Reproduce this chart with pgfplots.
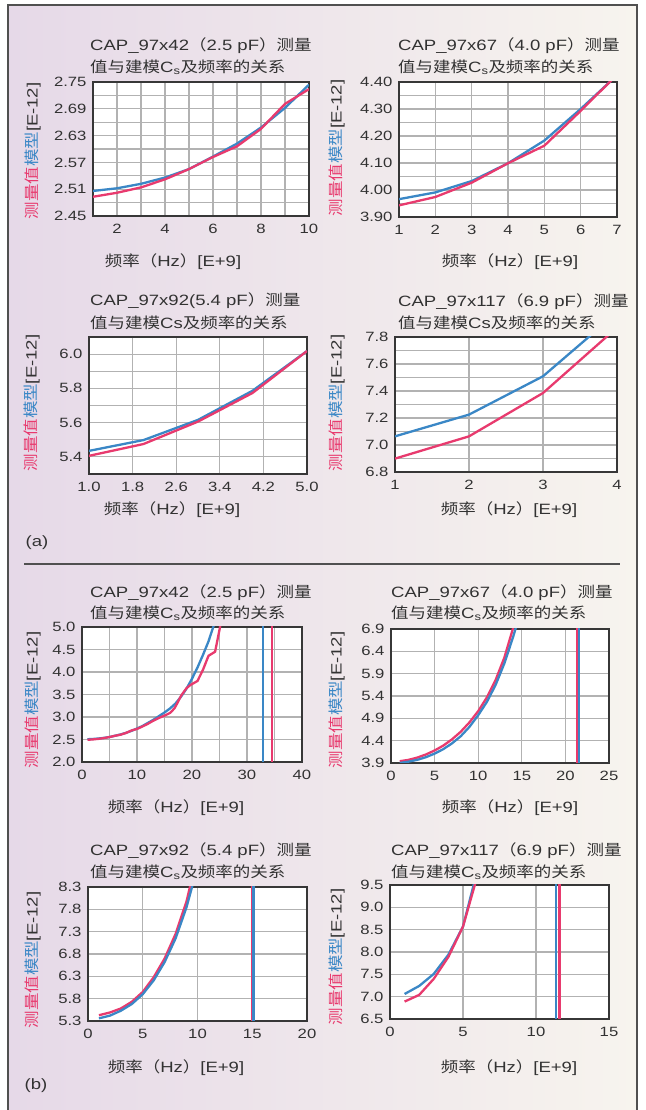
\documentclass[border=0pt]{standalone}
\usepackage{fontspec}
\usepackage{pgfplots}
\pgfplotsset{compat=1.18}
\setmainfont{Liberation Sans}[FakeStretch=1.24]
\newfontfamily\cjk{Noto Sans CJK SC}[FakeStretch=1.17]
\newcommand{\zh}[1]{{\cjk #1}}
\definecolor{cred}{RGB}{232,58,110}
\definecolor{cblue}{RGB}{58,135,198}
\definecolor{axgray}{RGB}{55,55,55}
\definecolor{grgray}{RGB}{178,178,178}
\definecolor{txgray}{RGB}{50,50,50}
\definecolor{bgL}{RGB}{230,217,232}
\definecolor{bgR}{RGB}{247,244,238}
\definecolor{framegray}{RGB}{80,80,80}
\pgfplotsset{
  capax/.style={
    scale only axis, anchor=south west,
    axis background/.style={fill=white},
    axis line style={draw=axgray, line width=2bp},
    grid=both,
    major grid style={draw=grgray, line width=1.2bp},
    minor grid style={draw=grgray, line width=1.2bp},
    major tick length=0pt, minor tick length=0pt,
    ticklabel style={font=\fontsize{13.5}{13.5}\selectfont, text=txgray},
    /pgf/number format/assume math mode=true,
    xticklabel shift=5bp, yticklabel shift=3bp,
    every axis plot/.append style={line width=2.3bp, line join=round},
  },
}
\newcommand{\tfont}{\fontsize{15}{15}\selectfont}
\newcommand{\ttl}[4]{%
  \node[anchor=west, text=txgray, font=\tfont, inner sep=0pt] at (#1,#2) {#4};
  \node[anchor=west, text=txgray, font=\tfont, inner sep=0pt] at (#1,#3) {\zh{值与建模}C\textsubscript{s}\zh{及频率的关系}};}
\newcommand{\ttlb}[4]{%
  \node[anchor=west, text=txgray, font=\tfont, inner sep=0pt] at (#1,#2) {#4};
  \node[anchor=west, text=txgray, font=\tfont, inner sep=0pt] at (#1,#3) {\zh{值与建模}Cs\zh{及频率的关系}};}
\newcommand{\ylab}[2]{%
  \node[rotate=90, font=\tfont, inner sep=0pt] at (#1,#2) {\zh{\color{cred}测量值\color{cblue}模型}\color{txgray}[E-12]};}
\newcommand{\xlab}[2]{%
  \node[font=\tfont, text=txgray, inner sep=0pt] at (#1,#2) {\zh{频率（}Hz\zh{）}[E+9]};}
\begin{document}
\begin{tikzpicture}[x=1bp,y=1bp]
\useasboundingbox (0,0) rectangle (646,1110);
\fill[white] (0,0) rectangle (646,1110);
\shade[left color=bgL, right color=bgR] (7.5,0) rectangle (637,1104.5);
\draw[framegray, line width=2bp] (7.5,-5) -- (7.5,1104.5) -- (637,1104.5) -- (637,-5);
\draw[framegray, line width=1.5bp] (24,546) -- (620,546);
\node[font=\tfont, text=txgray] at (37,567) {(a)};
\node[font=\tfont, text=txgray] at (36,24) {(b)};

% ---------- Panel 1 ----------
\begin{axis}[capax, at={(93bp,894bp)}, width=216bp, height=134bp,
  xmin=1, xmax=10, ymin=2.45, ymax=2.75,
  xtick={2,4,6,8,10}, minor xtick={1,3,5,7,9},
  ytick={2.45,2.51,2.57,2.63,2.69,2.75}, minor ytick={2.48,2.54,2.60,2.66,2.72},
  yticklabel style={/pgf/number format/.cd, fixed, fixed zerofill, precision=2}]
\addplot[cblue] coordinates {(1,2.506)(2,2.512)(3,2.522)(4,2.536)(5,2.555)(6,2.583)(7,2.612)(8,2.648)(9,2.692)(10,2.744)};
\addplot[cred] coordinates {(1,2.493)(2,2.502)(3,2.514)(4,2.532)(5,2.555)(6,2.582)(7,2.606)(8,2.645)(9,2.701)(10,2.734)};
\end{axis}
\ttl{90}{1064}{1043}{CAP\_97x42\zh{（}2.5 pF\zh{）测量}}
\ylab{33}{959}
\xlab{173}{848}

% ---------- Panel 2 ----------
\begin{axis}[capax, at={(399bp,893bp)}, width=218bp, height=135bp,
  xmin=1, xmax=7, ymin=3.9, ymax=4.4,
  xtick={1,2,3,4,5,6,7},
  ytick={3.9,4.0,4.1,4.2,4.3,4.4}, minor ytick={3.95,4.05,4.15,4.25,4.35},
  yticklabel style={/pgf/number format/.cd, fixed, fixed zerofill, precision=2}]
\addplot[cblue] coordinates {(1,3.966)(2,3.991)(3,4.033)(4,4.099)(5,4.183)(6,4.300)(7,4.425)};
\addplot[cred] coordinates {(1,3.943)(2,3.974)(3,4.027)(4,4.099)(5,4.164)(6,4.293)(7,4.427)};
\end{axis}
\ttl{398}{1064}{1043}{CAP\_97x67\zh{（}4.0 pF\zh{）测量}}
\ylab{337}{962}
\xlab{510}{848}

% ---------- Panel 3 ----------
\begin{axis}[capax, at={(89bp,636bp)}, width=218bp, height=137bp,
  xmin=1, xmax=5, ymin=5.3, ymax=6.1,
  xtick={1.0,1.8,2.6,3.4,4.2,5.0},
  ytick={5.4,5.6,5.8,6.0}, minor ytick={5.3,5.5,5.7,5.9,6.1},
  xticklabel style={/pgf/number format/.cd, fixed, fixed zerofill, precision=1},
  yticklabel style={/pgf/number format/.cd, fixed, fixed zerofill, precision=1}]
\addplot[cblue] coordinates {(1,5.435)(2,5.498)(3,5.616)(4,5.786)(5,6.018)};
\addplot[cred] coordinates {(1,5.406)(2,5.475)(3,5.606)(4,5.773)(5,6.018)};
\end{axis}
\ttlb{90}{809}{787}{CAP\_97x92(5.4 pF\zh{）测量}}
\ylab{32}{707}
\xlab{172}{600}

% ---------- Panel 4 ----------
\begin{axis}[capax, at={(395bp,638bp)}, width=222bp, height=135bp,
  xmin=1, xmax=4, ymin=6.8, ymax=7.8,
  xtick={1,2,3,4},
  ytick={6.8,7.0,7.2,7.4,7.6,7.8}, minor ytick={6.9,7.1,7.3,7.5,7.7},
  yticklabel style={/pgf/number format/.cd, fixed, fixed zerofill, precision=1}]
\addplot[cblue] coordinates {(1,7.064)(2,7.225)(3,7.509)(4,7.98)};
\addplot[cred] coordinates {(1,6.899)(2,7.064)(3,7.385)(4,7.87)};
\end{axis}
\ttlb{398}{808}{787}{CAP\_97x117\zh{（}6.9 pF\zh{）测量}}
\ylab{337}{707}
\xlab{509}{600}

% ---------- Panel 5 ----------
\begin{axis}[capax, at={(82bp,348bp)}, width=220bp, height=135bp,
  xmin=0, xmax=40, ymin=2, ymax=5,
  xtick={0,10,20,30,40}, minor xtick={5,15,25,35},
  ytick={2.0,2.5,3.0,3.5,4.0,4.5,5.0},
  yticklabel style={/pgf/number format/.cd, fixed, fixed zerofill, precision=1}]
\addplot[cblue] coordinates {(1,2.506)(2,2.512)(3,2.522)(4,2.536)(5,2.555)(6,2.583)(7,2.612)(8,2.648)(9,2.692)(10,2.744)(11,2.80)(12,2.87)(13,2.94)(14,3.02)(15,3.10)(16,3.19)(17,3.30)(18,3.45)(19,3.63)(20,3.85)(21,4.10)(22,4.38)(23,4.68)(24,5.05)};
\addplot[cred] coordinates {(1,2.493)(2,2.502)(3,2.514)(4,2.532)(5,2.555)(6,2.582)(7,2.606)(8,2.645)(9,2.701)(10,2.734)(11,2.79)(12,2.85)(13,2.92)(14,2.98)(15,3.03)(16,3.09)(16.8,3.19)(17.3,3.30)(18,3.47)(19,3.64)(19.7,3.71)(21,3.80)(22,4.05)(23,4.36)(24.2,4.45)(25.1,5.0)(25.3,5.2)};
\addplot[cblue] coordinates {(32.9,1)(32.9,6)};
\addplot[cred] coordinates {(34.6,1)(34.6,6)};
\end{axis}
\ttl{90}{517}{497}{CAP\_97x42\zh{（}2.5 pF\zh{）测量}}
\ylab{33}{410}
\xlab{176}{302}

% ---------- Panel 6 ----------
\begin{axis}[capax, at={(391bp,347bp)}, width=218bp, height=134bp,
  xmin=0, xmax=25, ymin=3.9, ymax=6.9,
  xtick={0,5,10,15,20,25},
  ytick={3.9,4.4,4.9,5.4,5.9,6.4,6.9},
  yticklabel style={/pgf/number format/.cd, fixed, fixed zerofill, precision=1}]
\addplot[cred] coordinates {(1,3.94)(2,3.97)(3,4.02)(4,4.09)(5,4.18)(6,4.29)(7,4.43)(8,4.60)(9,4.81)(10,5.06)(11,5.37)(12,5.76)(13,6.26)(14,6.92)(14.5,7.3)};
\addplot[cblue] coordinates {(1,3.90)(2,3.93)(3,3.97)(4,4.03)(5,4.11)(6,4.21)(7,4.34)(8,4.50)(9,4.71)(10,4.97)(11,5.27)(12,5.65)(13,6.13)(14,6.72)(14.5,7.05)};
\addplot[cred] coordinates {(21.3,3)(21.3,8)};
\addplot[cblue] coordinates {(21.56,3)(21.56,8)};
\end{axis}
\ttl{391}{517}{497}{CAP\_97x67\zh{（}4.0 pF\zh{）测量}}
\ylab{337}{410}
\xlab{510}{302}

% ---------- Panel 7 ----------
\begin{axis}[capax, at={(88bp,89bp)}, width=219bp, height=134bp,
  xmin=0, xmax=20, ymin=5.3, ymax=8.3,
  xtick={0,5,10,15,20},
  ytick={5.3,5.8,6.3,6.8,7.3,7.8,8.3},
  yticklabel style={/pgf/number format/.cd, fixed, fixed zerofill, precision=1}]
\addplot[cred] coordinates {(1,5.43)(2,5.49)(3,5.58)(4,5.73)(5,5.95)(6,6.28)(7,6.70)(8,7.25)(9,7.98)(9.5,8.5)};
\addplot[cblue] coordinates {(1,5.36)(2,5.42)(3,5.53)(4,5.68)(5,5.90)(6,6.21)(7,6.62)(8,7.15)(9,7.85)(9.5,8.3)(10,8.8)};
\addplot[cred] coordinates {(14.95,5)(14.95,9)};
\addplot[cblue] coordinates {(15.12,5)(15.12,9)};
\end{axis}
\ttl{90}{259}{238}{CAP\_97x92\zh{（}5.4 pF\zh{）测量}}
\ylab{33}{150}
\xlab{176}{42}

% ---------- Panel 8 ----------
\begin{axis}[capax, at={(390bp,91bp)}, width=219bp, height=134bp,
  xmin=0, xmax=15, ymin=6.5, ymax=9.5,
  xtick={0,5,10,15},
  ytick={6.5,7.0,7.5,8.0,8.5,9.0,9.5},
  yticklabel style={/pgf/number format/.cd, fixed, fixed zerofill, precision=1}]
\addplot[cblue] coordinates {(1,7.06)(2,7.24)(3,7.51)(4,7.94)(5,8.57)(6,9.85)};
\addplot[cred] coordinates {(1,6.89)(2,7.04)(3,7.40)(4,7.89)(5,8.57)(6,9.72)};
\addplot[cblue] coordinates {(11.37,6)(11.37,10)};
\addplot[cred] coordinates {(11.6,6)(11.6,10)};
\end{axis}
\ttl{391}{259}{238}{CAP\_97x117\zh{（}6.9 pF\zh{）测量}}
\ylab{337}{153}
\xlab{509}{42}
\end{tikzpicture}
\end{document}
